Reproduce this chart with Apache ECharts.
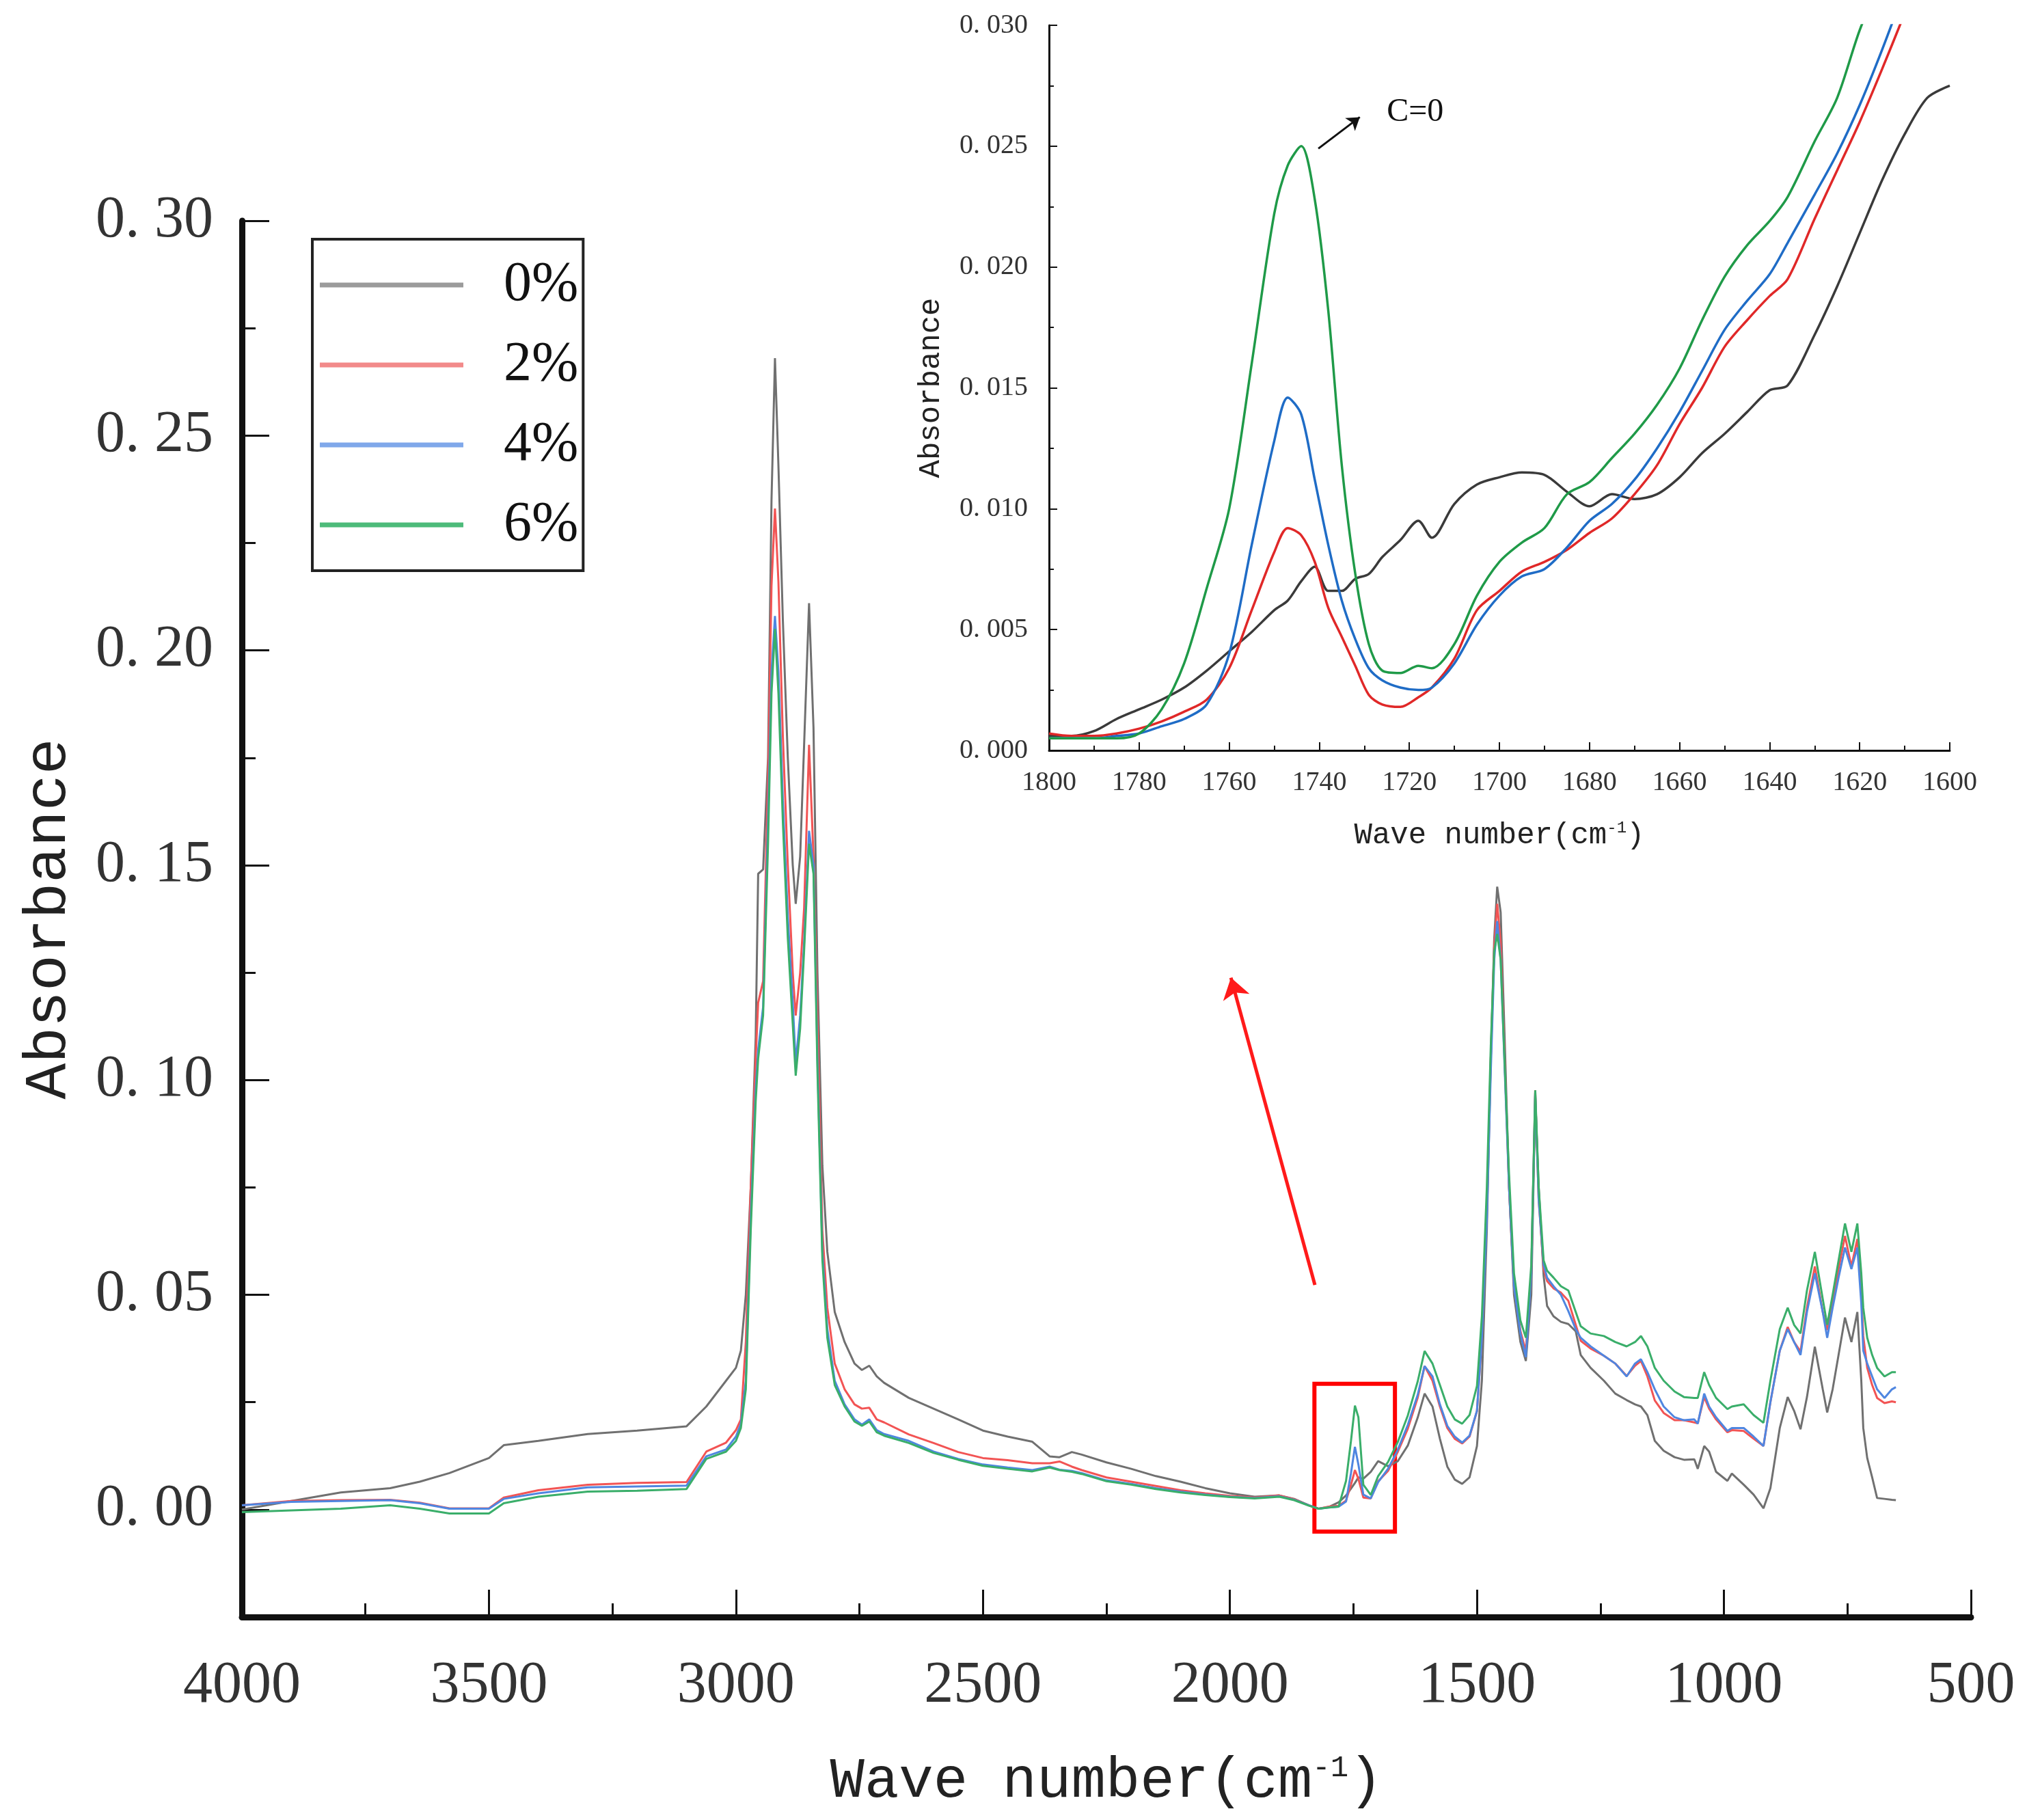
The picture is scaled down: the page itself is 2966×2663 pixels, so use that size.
<!DOCTYPE html>
<html>
<head>
<meta charset="utf-8">
<title>FTIR</title>
<script src="https://cdn.jsdelivr.net/npm/echarts@6/dist/echarts.min.js"></script>
<style>
  html, body { margin: 0; padding: 0; background: #fff; }
  #chart { width: 2966px; height: 2663px; }
</style>
</head>
<body>
<div id="chart"></div>
<script>
// main spectrum: wave number (cm-1) and absorbance of each sample
const waveNum = [
  4000, 3900, 3800, 3700, 3640, 3580, 3500, 3470, 3400, 3300,
  3200, 3100, 3060, 3020, 3000, 2990, 2980, 2970, 2960, 2955,
  2945, 2935, 2928, 2921, 2914, 2905, 2895, 2885, 2879, 2870,
  2862, 2852, 2843, 2835, 2825, 2815, 2800, 2780, 2760, 2745,
  2730, 2715, 2700, 2650, 2600, 2550, 2500, 2450, 2400, 2365,
  2345, 2320, 2300, 2250, 2200, 2150, 2100, 2050, 2000, 1950,
  1900, 1870, 1840, 1820, 1800, 1780, 1765, 1755, 1747, 1740,
  1730, 1715, 1700, 1680, 1660, 1640, 1620, 1606, 1590, 1575,
  1560, 1545, 1530, 1515, 1500, 1490, 1480, 1472, 1465, 1459,
  1452, 1444, 1435, 1425, 1412, 1401, 1390, 1382, 1375, 1365,
  1358, 1345, 1330, 1315, 1300, 1290, 1270, 1243, 1220, 1197,
  1180, 1168, 1155, 1140, 1122, 1100, 1081, 1060, 1053, 1040,
  1030, 1016, 993, 984, 960, 940, 920, 906, 887, 871,
  858, 845, 832, 816, 800, 791, 780, 768, 755, 742,
  730, 722, 718, 710, 700, 690, 675, 660, 652
];

const abs0 = [
  0.000, 0.002, 0.004, 0.005, 0.0065, 0.0085, 0.012, 0.015, 0.016, 0.0176,
  0.0184, 0.0194, 0.024, 0.030, 0.033, 0.037, 0.050, 0.075, 0.110, 0.148,
  0.149, 0.175, 0.235, 0.268, 0.243, 0.207, 0.175, 0.150, 0.141, 0.152,
  0.178, 0.211, 0.182, 0.125, 0.080, 0.060, 0.046, 0.039, 0.034, 0.0325,
  0.0335, 0.031, 0.0295, 0.026, 0.0235, 0.021, 0.0184, 0.017, 0.0158, 0.0124,
  0.0122, 0.0134, 0.0128, 0.011, 0.0095, 0.0078, 0.0065, 0.005, 0.0038, 0.003,
  0.0033, 0.0025, 0.001, 0.0002, 0.0006, 0.0017, 0.0033, 0.0049, 0.0062, 0.0075,
  0.0072, 0.0088, 0.0113, 0.0101, 0.0113, 0.0149, 0.0214, 0.027, 0.024, 0.0165,
  0.010, 0.007, 0.006, 0.0075, 0.0148, 0.030, 0.065, 0.105, 0.133, 0.145,
  0.139, 0.110, 0.075, 0.050, 0.039, 0.0346, 0.050, 0.0963, 0.075, 0.0544,
  0.0474, 0.045, 0.0437, 0.0432, 0.0415, 0.036, 0.033, 0.030, 0.027, 0.0255,
  0.0245, 0.024, 0.022, 0.016, 0.0137, 0.0122, 0.0116, 0.0117, 0.0095, 0.0148,
  0.0135, 0.0088, 0.0067, 0.0084, 0.0058, 0.0035, 0.0003, 0.005, 0.019, 0.0262,
  0.023, 0.0187, 0.0262, 0.0379, 0.028, 0.0226, 0.028, 0.036, 0.0447, 0.039,
  0.046, 0.030, 0.019, 0.012, 0.0075, 0.0027, 0.0025, 0.0023, 0.0022
];

const abs2 = [
  0.001, 0.002, 0.0022, 0.0023, 0.0016, 0.0003, 0.0003, 0.0028, 0.0045, 0.0058,
  0.0062, 0.0064, 0.0135, 0.0156, 0.0185, 0.021, 0.039, 0.075, 0.105, 0.118,
  0.123, 0.170, 0.215, 0.233, 0.216, 0.180, 0.150, 0.125, 0.115, 0.125,
  0.140, 0.178, 0.152, 0.115, 0.065, 0.047, 0.034, 0.028, 0.0245, 0.0235,
  0.0237, 0.021, 0.0203, 0.0175, 0.0155, 0.0134, 0.012, 0.0115, 0.0108, 0.0108,
  0.0112, 0.010, 0.0092, 0.0075, 0.0065, 0.0055, 0.0045, 0.0038, 0.0032, 0.0028,
  0.0033, 0.0024, 0.001, 0.0002, 0.0007, 0.0009, 0.0021, 0.0058, 0.0092, 0.0072,
  0.0028, 0.0026, 0.0066, 0.009, 0.0135, 0.0188, 0.026, 0.0334, 0.030, 0.024,
  0.019, 0.0165, 0.0154, 0.017, 0.0229, 0.040, 0.070, 0.105, 0.131, 0.141,
  0.132, 0.105, 0.075, 0.052, 0.0416, 0.0369, 0.055, 0.0976, 0.072, 0.056,
  0.0532, 0.0515, 0.0505, 0.0486, 0.043, 0.0393, 0.0375, 0.0358, 0.034, 0.0311,
  0.0335, 0.0346, 0.031, 0.0254, 0.0225, 0.0208, 0.0208, 0.0203, 0.0201, 0.0262,
  0.0235, 0.021, 0.018, 0.0185, 0.0183, 0.0165, 0.0148, 0.025, 0.037, 0.0425,
  0.039, 0.0368, 0.047, 0.0566, 0.046, 0.0418, 0.048, 0.056, 0.0637, 0.0566,
  0.063, 0.050, 0.0404, 0.033, 0.029, 0.026, 0.0248, 0.0252, 0.025
];

const abs4 = [
  0.001, 0.0018, 0.002, 0.0022, 0.0015, 0.0002, 0.0002, 0.0025, 0.0038, 0.0052,
  0.0054, 0.0056, 0.0124, 0.014, 0.017, 0.020, 0.030, 0.068, 0.098, 0.107,
  0.117, 0.160, 0.195, 0.208, 0.195, 0.165, 0.138, 0.118, 0.104, 0.115,
  0.132, 0.158, 0.150, 0.105, 0.060, 0.042, 0.030, 0.0245, 0.021, 0.0198,
  0.021, 0.0185, 0.0176, 0.016, 0.0135, 0.0118, 0.0105, 0.0098, 0.0092, 0.0100,
  0.0093, 0.009, 0.0085, 0.0068, 0.006, 0.005, 0.0042, 0.0035, 0.003, 0.0027,
  0.0031, 0.0023, 0.001, 0.0002, 0.0005, 0.0007, 0.0019, 0.0085, 0.0146, 0.0105,
  0.0035, 0.0026, 0.0064, 0.0095, 0.014, 0.0197, 0.0267, 0.0334, 0.031, 0.0245,
  0.0195, 0.017, 0.0156, 0.0172, 0.023, 0.040, 0.068, 0.102, 0.128, 0.137,
  0.128, 0.103, 0.075, 0.052, 0.041, 0.0355, 0.055, 0.097, 0.072, 0.057,
  0.054, 0.052, 0.050, 0.0462, 0.042, 0.040, 0.038, 0.0358, 0.034, 0.031,
  0.034, 0.035, 0.032, 0.028, 0.024, 0.0215, 0.0208, 0.021, 0.020, 0.027,
  0.024, 0.0215, 0.0183, 0.019, 0.019, 0.017, 0.0148, 0.025, 0.037, 0.042,
  0.039, 0.036, 0.046, 0.055, 0.046, 0.040, 0.047, 0.054, 0.061, 0.056,
  0.061, 0.048, 0.037, 0.034, 0.031, 0.028, 0.026, 0.028, 0.0285
];

const abs6 = [
  -0.0006, -0.0002, 0.0002, 0.001, 0.0002, -0.0009, -0.0009, 0.0015, 0.003, 0.0042,
  0.0044, 0.0048, 0.0118, 0.0135, 0.016, 0.019, 0.028, 0.065, 0.095, 0.105,
  0.115, 0.155, 0.190, 0.205, 0.190, 0.160, 0.133, 0.113, 0.101, 0.112,
  0.130, 0.155, 0.148, 0.102, 0.058, 0.040, 0.029, 0.024, 0.0205, 0.0195,
  0.0205, 0.018, 0.0172, 0.0155, 0.0132, 0.0116, 0.0102, 0.0095, 0.0089, 0.0098,
  0.0092, 0.0088, 0.0083, 0.0066, 0.0058, 0.0048, 0.004, 0.0034, 0.0029, 0.0026,
  0.003, 0.0022, 0.0009, 0.0002, 0.0005, 0.0007, 0.0067, 0.016, 0.0242, 0.0215,
  0.0058, 0.0034, 0.0078, 0.0111, 0.0158, 0.0219, 0.0298, 0.0369, 0.034, 0.029,
  0.024, 0.021, 0.020, 0.022, 0.0288, 0.045, 0.075, 0.108, 0.130, 0.134,
  0.128, 0.104, 0.078, 0.055, 0.044, 0.040, 0.057, 0.0976, 0.075, 0.058,
  0.0556, 0.054, 0.052, 0.051, 0.046, 0.0427, 0.041, 0.0404, 0.039, 0.038,
  0.039, 0.0404, 0.038, 0.033, 0.030, 0.0275, 0.0262, 0.026, 0.026, 0.032,
  0.029, 0.026, 0.0234, 0.024, 0.0245, 0.022, 0.0202, 0.030, 0.042, 0.047,
  0.043, 0.041, 0.051, 0.060, 0.049, 0.043, 0.050, 0.058, 0.0666, 0.060,
  0.0666, 0.055, 0.047, 0.040, 0.036, 0.033, 0.031, 0.032, 0.032
];

// inset: zoom on the C=O band, 1800-1600 cm-1
const insetWave = [
  1800, 1795, 1790, 1785, 1780, 1775, 1770, 1765, 1760, 1755,
  1750, 1747, 1744, 1741, 1738, 1735, 1732, 1729, 1726, 1722,
  1718, 1715, 1710, 1705, 1700, 1695, 1690, 1685, 1680, 1675,
  1670, 1665, 1660, 1655, 1650, 1645, 1640, 1636, 1630, 1625,
  1620, 1615, 1610, 1605, 1600
];

const inset0 = [
  0.0006, 0.0006, 0.0008, 0.0013, 0.0017, 0.0021, 0.0026, 0.0033, 0.0041, 0.0049,
  0.0058, 0.0062, 0.0070, 0.0076, 0.0066, 0.0066, 0.0071, 0.0073, 0.0080, 0.0087,
  0.0095, 0.0088, 0.0102, 0.0110, 0.0113, 0.0115, 0.0114, 0.0107, 0.0101, 0.0106,
  0.0104, 0.0106, 0.0113, 0.0123, 0.0131, 0.0140, 0.0149, 0.0151, 0.0172, 0.0192,
  0.0214, 0.0236, 0.0255, 0.0270, 0.0275
];
const inset2 = [
  0.0007, 0.0006, 0.0006, 0.0007, 0.0009, 0.0012, 0.0016, 0.0021, 0.0034, 0.0058,
  0.0082, 0.0092, 0.0089, 0.0078, 0.0059, 0.0047, 0.0035, 0.0023, 0.0019, 0.0018,
  0.0022, 0.0026, 0.0038, 0.0058, 0.0066, 0.0074, 0.0078, 0.0083, 0.0090, 0.0096,
  0.0106, 0.0118, 0.0135, 0.0150, 0.0167, 0.0178, 0.0188, 0.0195, 0.0220, 0.0240,
  0.0260, 0.0282, 0.0305, null, null
];
const inset4 = [
  0.0005, 0.0005, 0.0005, 0.0006, 0.0007, 0.0010, 0.0013, 0.0019, 0.0040, 0.0085,
  0.0128, 0.0146, 0.0139, 0.0112, 0.0085, 0.0062, 0.0046, 0.0034, 0.0029, 0.0026,
  0.0025, 0.0026, 0.0036, 0.0052, 0.0064, 0.0072, 0.0075, 0.0084, 0.0095, 0.0102,
  0.0112, 0.0125, 0.0140, 0.0157, 0.0174, 0.0186, 0.0197, 0.0210, 0.0230, 0.0247,
  0.0267, 0.0290, 0.0315, null, null
];
const inset6 = [
  0.0005, 0.0005, 0.0005, 0.0005, 0.0007, 0.0017, 0.0036, 0.0067, 0.0100, 0.0160,
  0.0222, 0.0242, 0.0250, 0.0228, 0.0182, 0.0118, 0.0073, 0.0044, 0.0033, 0.0032,
  0.0035, 0.0034, 0.0044, 0.0064, 0.0078, 0.0086, 0.0092, 0.0106, 0.0111, 0.0121,
  0.0131, 0.0143, 0.0158, 0.0178, 0.0196, 0.0209, 0.0219, 0.0229, 0.0252, 0.0270,
  0.0298, 0.0320, null, null, null
];

const names = ["0%", "2%", "4%", "6%"];
const mainTicks = [0, 0.05, 0.1, 0.15, 0.2, 0.25, 0.3];
const mainMinorTicks = [0.025, 0.075, 0.125, 0.175, 0.225, 0.275];

const mainColors = ["#707070", "#f25454", "#4f86e0", "#3aae6a"];
const legendColors = ["#9b9b9b", "#f28a8a", "#80a8ea", "#4dbb7a"];
const insetColors = ["#3a3a3a", "#e02828", "#1f6cc6", "#1f9a48"];

const pairs = (xs, ys) =>
  xs.map((x, i) => [x, ys[i]]).filter((p) => p[1] !== null);

const mainSets = [abs0, abs2, abs4, abs6];
const insetSets = [inset0, inset2, inset4, inset6];

const chart = echarts.init(document.getElementById("chart"));

const serifFont = "Liberation Serif";
const monoFont = "Liberation Mono";

let series = [];
mainSets.forEach((ys, i) => {
  series.push({
    name: names[i],
    type: "line",
    xAxisIndex: 0,
    yAxisIndex: 0,
    symbol: "none",
    data: pairs(waveNum, ys),
    lineStyle: { color: mainColors[i], width: 3 },
    itemStyle: { color: mainColors[i] },
    z: 3 + i,
  });
});

// red box around the C=O band and the arrow pointing to the inset
series[0].markArea = {
  silent: true,
  itemStyle: { color: "rgba(0,0,0,0)", borderColor: "#ff0000", borderWidth: 6 },
  data: [[{ xAxis: 1829, yAxis: 0.0293 }, { xAxis: 1666, yAxis: -0.0051 }]],
};
series[0].markLine = {
  silent: true,
  symbol: ["none", "arrow"],
  symbolSize: 30,
  label: { show: false },
  lineStyle: { color: "#ff1a1a", width: 5, type: "solid" },
  data: [[{ coord: [1828, 0.0523] }, { coord: [1998, 0.1238] }]],
};

insetSets.forEach((ys, i) => {
  series.push({
    name: names[i],
    type: "line",
    xAxisIndex: 1,
    yAxisIndex: 2,
    symbol: "none",
    smooth: 0.3,
    data: pairs(insetWave, ys),
    lineStyle: { color: insetColors[i], width: 3.5 },
    itemStyle: { color: insetColors[i] },
    z: 3 + i,
  });
});

series[4].markLine = {
  silent: true,
  symbol: ["none", "arrow"],
  symbolSize: 18,
  label: { show: false },
  lineStyle: { color: "#111", width: 3, type: "solid" },
  data: [[{ coord: [1740.2, 0.0249] }, { coord: [1731, 0.0262] }]],
};
series[4].markPoint = {
  silent: true,
  symbol: "rect",
  symbolSize: 1,
  itemStyle: { color: "rgba(0,0,0,0)" },
  label: {
    show: true,
    position: "inside",
    formatter: "C=0",
    fontFamily: serifFont,
    fontSize: 48,
    color: "#111",
  },
  data: [{ coord: [1718.7, 0.0264] }],
};

const plain = (v) => String(v);

const option = {
  backgroundColor: "#fff",
  animation: false,
  legend: {
    orient: "vertical",
    left: 457,
    top: 350,
    padding: [26, 7, 26, 11],
    itemGap: 35,
    itemWidth: 210,
    itemHeight: 7,
    icon: "rect",
    selectedMode: false,
    borderColor: "#222",
    borderWidth: 4,
    textStyle: {
      fontFamily: serifFont,
      fontSize: 82,
      color: "#111",
      padding: [0, 0, 0, 54],
    },
    data: names.map((n, i) => ({ name: n, itemStyle: { color: legendColors[i] } })),
  },
  grid: [
    { left: 354, right: 82, top: 323, bottom: 297 },
    { left: 1535, right: 113, top: 37, bottom: 1565 },
  ],
  xAxis: [
    {
      type: "value",
      gridIndex: 0,
      min: 500,
      max: 4000,
      interval: 500,
      inverse: true,
      name: "Wave number(cm{sup|-1})",
      nameLocation: "middle",
      nameGap: 199,
      nameTextStyle: {
        fontFamily: monoFont,
        fontSize: 84,
        color: "#222",
        rich: { sup: { fontFamily: monoFont, fontSize: 44, color: "#222", verticalAlign: "top", padding: [0, 0, 36, 0] } },
      },
      axisLine: { onZero: false, lineStyle: { color: "#111", width: 9 } },
      axisTick: { inside: true, length: 40, lineStyle: { color: "#111", width: 3 } },
      minorTick: { show: true, splitNumber: 2, length: 20, lineStyle: { color: "#111", width: 3 } },
      axisLabel: { margin: 58, fontFamily: serifFont, fontSize: 86, color: "#333", formatter: plain },
      splitLine: { show: false },
    },
    {
      type: "value",
      gridIndex: 1,
      min: 1600,
      max: 1800,
      interval: 20,
      inverse: true,
      name: "Wave number(cm{sup|-1})",
      nameLocation: "middle",
      nameGap: 102,
      nameTextStyle: {
        fontFamily: monoFont,
        fontSize: 44,
        color: "#222",
        rich: { sup: { fontFamily: monoFont, fontSize: 24, color: "#222", verticalAlign: "top", padding: [0, 0, 18, 0] } },
      },
      axisLine: { onZero: false, lineStyle: { color: "#111", width: 3 } },
      axisTick: { inside: true, length: 12, lineStyle: { color: "#111", width: 2 } },
      minorTick: { show: true, splitNumber: 2, length: 7, lineStyle: { color: "#111", width: 2 } },
      axisLabel: { margin: 27, fontFamily: serifFont, fontSize: 40, color: "#333", formatter: plain },
      splitLine: { show: false },
    },
  ],
  yAxis: [
    {
      type: "value",
      gridIndex: 0,
      position: "left",
      min: -0.025,
      max: 0.3,
      name: "Absorbance",
      nameLocation: "middle",
      nameGap: 238,
      nameTextStyle: { fontFamily: monoFont, fontSize: 88, color: "#222" },
      axisLine: { onZero: false, lineStyle: { color: "#111", width: 9 } },
      axisTick: { inside: true, length: 40, customValues: mainTicks, lineStyle: { color: "#111", width: 3 } },
      axisLabel: {
        customValues: mainTicks,
        margin: 42,
        fontFamily: serifFont,
        fontSize: 86,
        color: "#333",
        formatter: (v) => v.toFixed(2).replace(".", ". "),
      },
      splitLine: { show: false },
    },
    {
      // minor ticks of the main y axis
      type: "value",
      gridIndex: 0,
      position: "left",
      min: -0.025,
      max: 0.3,
      axisLine: { show: false },
      axisTick: { inside: true, length: 20, customValues: mainMinorTicks, lineStyle: { color: "#111", width: 3 } },
      axisLabel: { show: false },
      splitLine: { show: false },
    },
    {
      type: "value",
      gridIndex: 1,
      min: 0,
      max: 0.03,
      interval: 0.005,
      name: "Absorbance",
      nameLocation: "middle",
      nameGap: 151,
      nameTextStyle: { fontFamily: monoFont, fontSize: 44, color: "#222" },
      axisLine: { onZero: false, lineStyle: { color: "#111", width: 3 } },
      axisTick: { inside: true, length: 12, lineStyle: { color: "#111", width: 2 } },
      minorTick: { show: true, splitNumber: 2, length: 7, lineStyle: { color: "#111", width: 2 } },
      axisLabel: {
        margin: 31,
        fontFamily: serifFont,
        fontSize: 40,
        color: "#333",
        formatter: (v) => v.toFixed(3).replace(".", ". "),
      },
      splitLine: { show: false },
    },
  ],
  series: series,
};

chart.setOption(option);
</script>
</body>
</html>
